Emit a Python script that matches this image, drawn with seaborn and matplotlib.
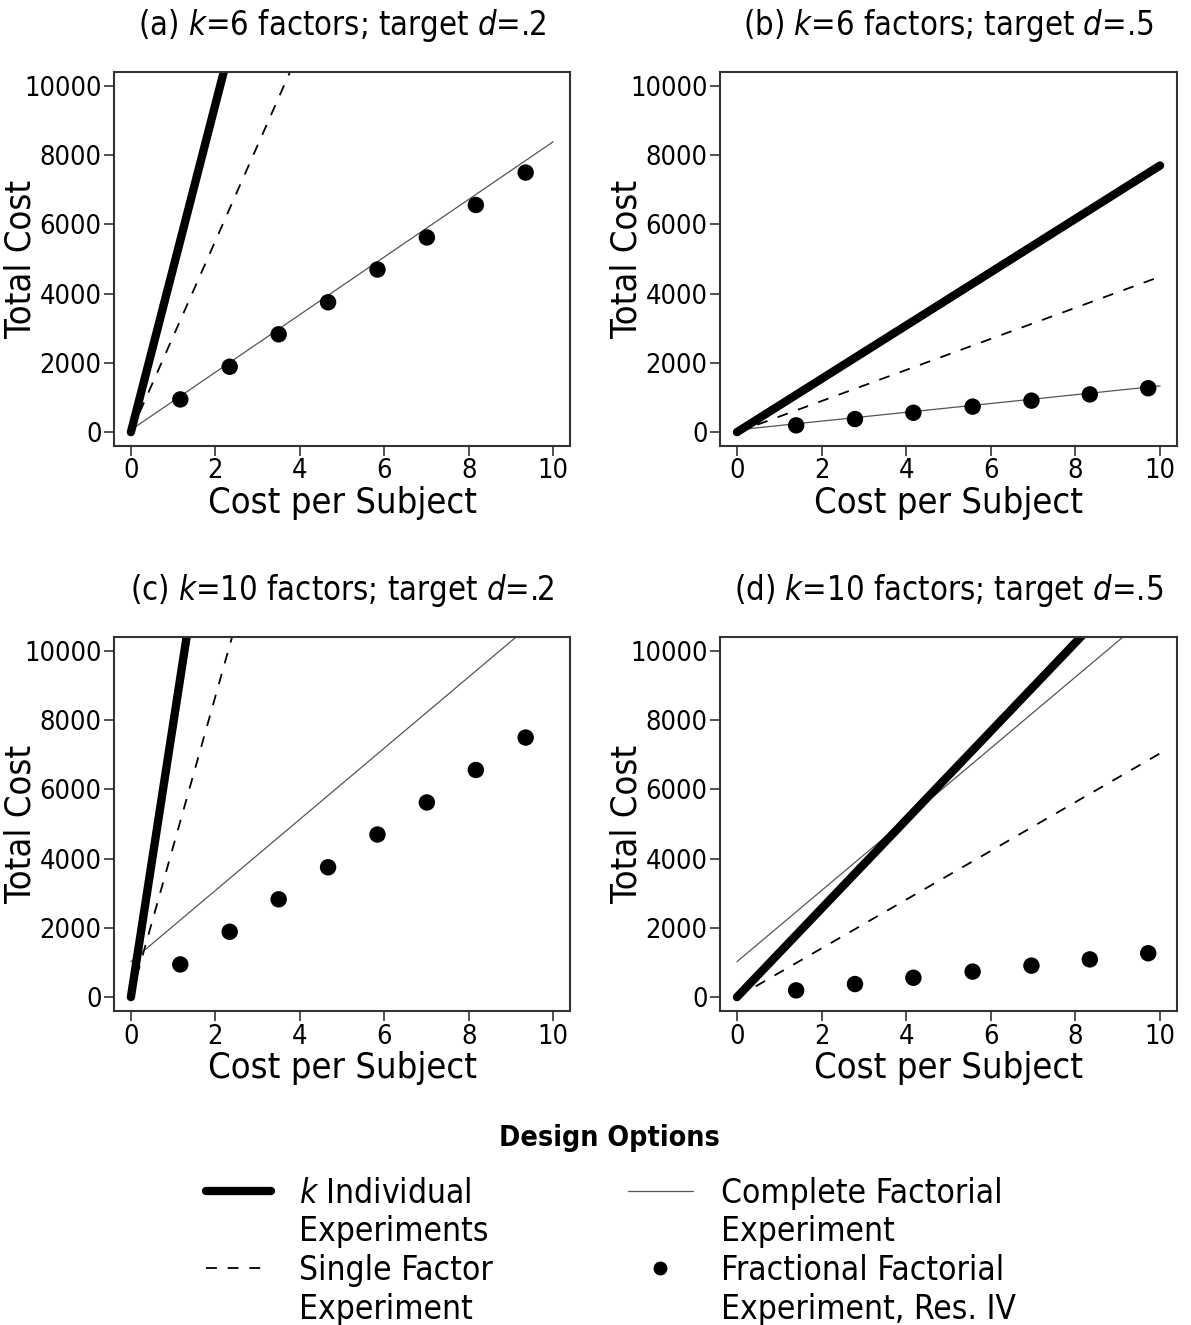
import matplotlib
matplotlib.use("Agg")
import matplotlib.pyplot as plt
from matplotlib import font_manager as fm
from matplotlib.lines import Line2D
import seaborn as sns

# ---------------- data ----------------
panel_titles = [r"(a) $k$=6 factors; target $d$=.2",
                r"(b) $k$=6 factors; target $d$=.5",
                r"(c) $k$=10 factors; target $d$=.2",
                r"(d) $k$=10 factors; target $d$=.5"]
line_x = [0, 10]
k_indiv_y = [[0, 47300], [0, 7700], [0, 78800], [0, 12800]]
single_y = [[0, 27600], [0, 4490], [0, 43400], [0, 7040]]
complete_y = [[64, 8385], [64, 1336], [1024, 11300], [1024, 11300]]

frac_x_d2 = [1.17, 2.34, 3.50, 4.67, 5.84, 7.01, 8.17, 9.35]
frac_y_d2 = [945, 1888, 2825, 3750, 4696, 5622, 6560, 7496]
frac_x_d5 = [1.40, 2.79, 4.17, 5.57, 6.96, 8.34, 9.72]
frac_y_d5 = [196, 378, 560, 737, 910, 1090, 1268]
frac_x = [frac_x_d2, frac_x_d5, frac_x_d2, frac_x_d5]
frac_y = [frac_y_d2, frac_y_d5, frac_y_d2, frac_y_d5]

x_ticks = [0, 2, 4, 6, 8, 10]
y_ticks = [0, 2000, 4000, 6000, 8000, 10000]
legend_title = "Design Options"
legend_lines = [["$k$ Individual", "Experiments"],
                ["Single Factor", "Experiment"],
                ["Complete Factorial", "Experiment"],
                ["Fractional Factorial", "Experiment, Res. IV"]]

# ---------------- style ----------------
sns.set_theme(style="white")
plt.rcParams["font.family"] = ["DejaVu Sans"]
if any("Condensed" in f.fname and "DejaVuSans" in f.fname for f in fm.fontManager.ttflist):
    plt.rcParams["font.stretch"] = "condensed"
plt.rcParams["mathtext.fontset"] = "dejavusans"
for key in ["text.color", "axes.labelcolor", "xtick.color", "ytick.color"]:
    plt.rcParams[key] = "black"

W, H = 1191, 1325
fig = plt.figure(figsize=(W / 100, H / 100), dpi=100)

boxes = [(114, 72, 570, 446), (720, 72, 1177, 446),
         (114, 637, 570, 1011), (720, 637, 1177, 1011)]

thick_kw = dict(color="black", linewidth=6.0, solid_capstyle="round")
dash_kw = dict(color="black", linewidth=1.3, dashes=(6, 6))
thin_kw = dict(color="#555555", linewidth=0.9)

for i, (l, t, r, b) in enumerate(boxes):
    ax = fig.add_axes([l / W, 1 - b / H, (r - l) / W, (b - t) / H])
    sns.lineplot(x=line_x, y=complete_y[i], ax=ax, **thin_kw)
    sns.lineplot(x=line_x, y=single_y[i], ax=ax, **dash_kw)
    sns.lineplot(x=line_x, y=k_indiv_y[i], ax=ax, **thick_kw)
    sns.scatterplot(x=frac_x[i], y=frac_y[i], ax=ax, color="black", s=140,
                    edgecolor="none", zorder=5)
    ax.set_xlim(-0.4, 10.4)
    ax.set_ylim(-400, 10400)
    ax.set_xticks(x_ticks)
    ax.set_yticks(y_ticks)
    ax.tick_params(axis="both", which="both", direction="out", length=7, width=1.2,
                   color="#333333", labelsize=19.5, pad=2, left=True, bottom=True,
                   labelcolor="black")
    for sp in ax.spines.values():
        sp.set_color("#333333")
        sp.set_linewidth(1.5)
    ax.set_xlabel("Cost per Subject", fontsize=26, labelpad=1)
    ax.set_ylabel("Total Cost", fontsize=26)
    ax.yaxis.set_label_coords(-0.168, 0.5)
    ax.set_title(panel_titles[i], fontsize=23.5, pad=27)

# legend: one entry per text line so each symbol sits beside the first line
blank = Line2D([], [], linestyle="none")
handles = [Line2D([], [], **thick_kw), blank,
           Line2D([], [], color="black", linewidth=1.3, linestyle=(0, (6, 6))), blank,
           Line2D([], [], **thin_kw), blank,
           Line2D([], [], color="black", marker="o", markersize=9, linestyle="none"), blank]
labels = [legend_lines[0][0], legend_lines[0][1], legend_lines[1][0], legend_lines[1][1],
          legend_lines[2][0], legend_lines[2][1], legend_lines[3][0], legend_lines[3][1]]
fig.text(0.512, 1 - 1138 / H, legend_title, ha="center", va="center",
         fontsize=20.5, fontweight="bold")
fig.legend(handles, labels, loc="upper center",
           bbox_to_anchor=(0.513, 1 - 1160 / H), ncol=2, frameon=False,
           fontsize=24, borderpad=0, handlelength=1.95, handletextpad=0.85,
           columnspacing=4.05, labelspacing=0.17)

fig.savefig("out.png", dpi=100)
